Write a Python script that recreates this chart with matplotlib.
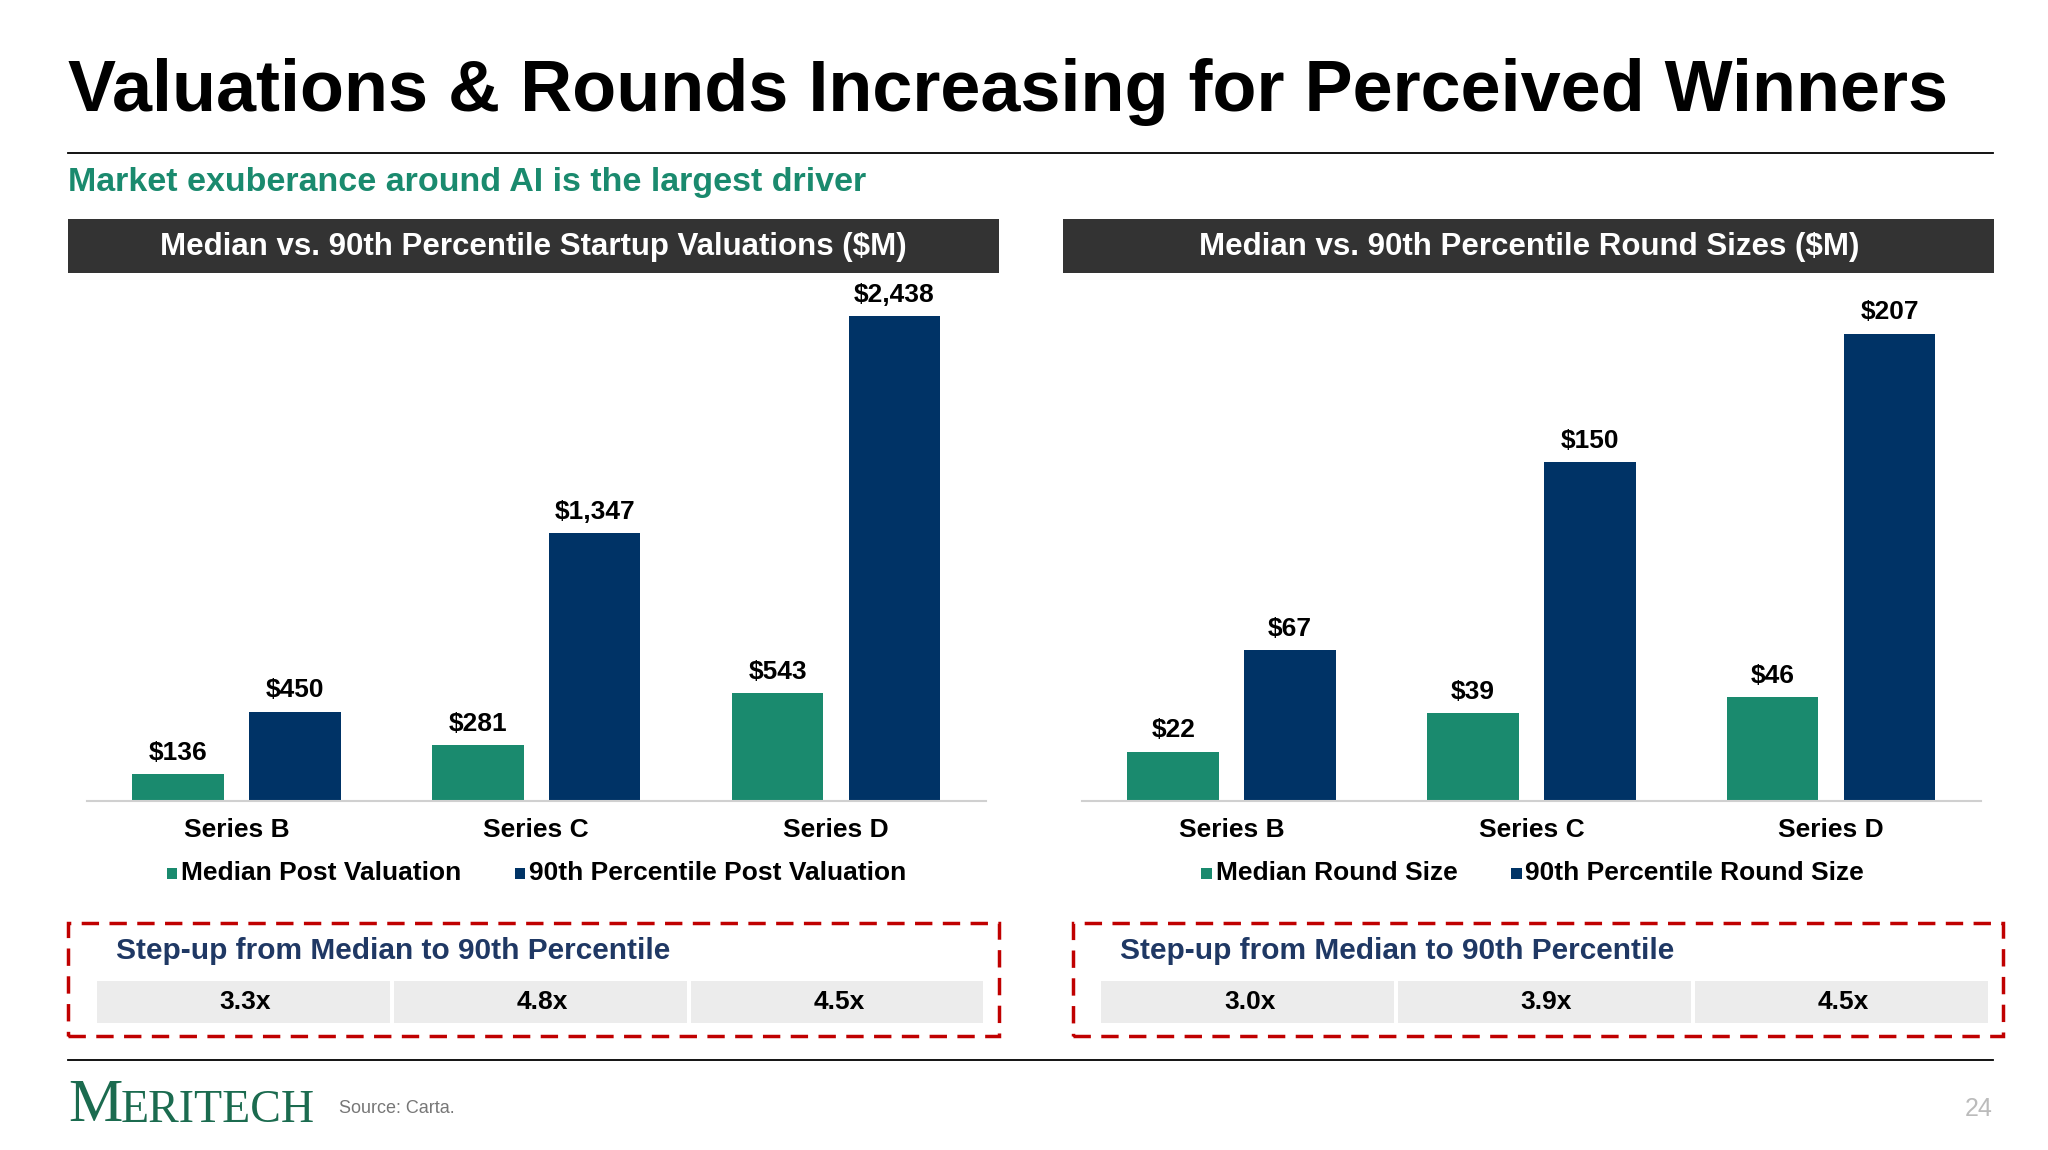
import matplotlib.pyplot as plt
from matplotlib.patches import Rectangle
import numpy as np

plt.rcParams['font.family'] = ['Liberation Sans', 'DejaVu Sans']

# data
categories = ["Series B", "Series C", "Series D"]
val_median = [136, 281, 543]
val_p90 = [450, 1347, 2438]
round_median = [22, 39, 46]
round_p90 = [67, 150, 207]
val_stepup = ["3.3x", "4.8x", "4.5x"]
round_stepup = ["3.0x", "3.9x", "4.5x"]

GREEN = "#1a8a6e"
NAVY = "#003366"
W, H = 1560.0, 877.0  # layout units (reference as displayed)

fig = plt.figure(figsize=(20.48, 11.5), dpi=100)
fig.patch.set_facecolor("white")

def fx(x):
    return x / W

def fy(y):
    return 1 - y / H

def rect(x0, y0, x1, y1, **kw):
    fig.add_artist(Rectangle((fx(x0), fy(y1)), fx(x1) - fx(x0), (y1 - y0) / H,
                             transform=fig.transFigure, **kw))

def line(x0, x1, y, **kw):
    fig.add_artist(plt.Line2D([fx(x0), fx(x1)], [fy(y), fy(y)], transform=fig.transFigure, **kw))

fig.text(fx(52), fy(70), "Valuations & Rounds Increasing for Perceived Winners",
         fontsize=51.8, fontweight="bold", va="center", ha="left", color="black")
line(52, 1518, 117, color="black", lw=1.3)
fig.text(fx(52), fy(139), "Market exuberance around AI is the largest driver",
         fontsize=24.5, fontweight="bold", color=GREEN, va="center")

def panel(x0, x1, box_x0, box_x1, title, med, p90, ymax, labels, fmt, legs, steps):
    rect(x0, 167, x1, 208, color="#333333", lw=0)
    fig.text(fx((x0 + x1) / 2), fy(188), title, color="white", fontsize=22.5,
             fontweight="bold", ha="center", va="center")
    ax = fig.add_axes([fx(x0 + 14), fy(611), fx(x1 - 10) - fx(x0 + 14), (611 - 215) / H])
    x = np.arange(len(labels))
    off, bw = 0.195, 0.305
    ax.bar(x - off, med, bw, color=GREEN)
    ax.bar(x + off, p90, bw, color=NAVY)
    for xi, v in zip(x - off, med):
        ax.text(xi, v + ymax * 0.018, fmt(v), ha="center", va="bottom", fontsize=19, fontweight="bold")
    for xi, v in zip(x + off, p90):
        ax.text(xi, v + ymax * 0.018, fmt(v), ha="center", va="bottom", fontsize=19, fontweight="bold")
    ax.set_xlim(-0.5, 2.5)
    ax.set_ylim(0, ymax)
    for s in ["top", "right", "left"]:
        ax.spines[s].set_visible(False)
    ax.spines["bottom"].set_color("#d0d0d0")
    ax.spines["bottom"].set_linewidth(1.5)
    ax.set_yticks([])
    ax.set_xticks(x)
    ax.set_xticklabels(labels, fontsize=19, fontweight="bold")
    ax.tick_params(axis="x", length=0, pad=12)
    # legend
    for (lx, txt), c in zip(legs, [GREEN, NAVY]):
        rect(lx, 662, lx + 8, 670, color=c, lw=0)
        fig.text(fx(lx + 11), fy(666), txt, fontsize=19, fontweight="bold", va="center")
    # step-up box
    fig.add_artist(Rectangle((fx(box_x0), fy(790)), fx(box_x1) - fx(box_x0), (790 - 704) / H,
                             transform=fig.transFigure, fill=False, ec="#c00000", lw=2.5,
                             ls=(0, (5, 3))))
    fig.text(fx(box_x0 + 36), fy(725), "Step-up from Median to 90th Percentile",
             fontsize=21.5, fontweight="bold", color="#1f3864", va="center")
    cw = (box_x1 - box_x0 - 31) / 3
    for i, s in enumerate(steps):
        c0 = box_x0 + 22 + i * cw
        rect(c0, 748, c0 + cw - 3, 780, color="#ececec", lw=0)
        fig.text(fx(c0 + cw / 2), fy(764), s, fontsize=19, fontweight="bold",
                 ha="center", va="center")

panel(52, 761, 52, 761, "Median vs. 90th Percentile Startup Valuations ($M)",
      val_median, val_p90, 2438 * 391 / 365, categories, lambda v: f"${v:,}",
      [(127, "Median Post Valuation"), (392, "90th Percentile Post Valuation")], val_stepup)
panel(810, 1519, 817, 1526, "Median vs. 90th Percentile Round Sizes ($M)",
      round_median, round_p90, 207 * 391 / 352, categories, lambda v: f"${v:,}",
      [(915, "Median Round Size"), (1151, "90th Percentile Round Size")], round_stepup)

line(52, 1518, 808, color="black", lw=1.3)
fig.text(fx(52), fy(844), "M", family="Liberation Serif", fontsize=44, color="#1b6b4f", va="center")
fig.text(fx(92), fy(847), "ERITECH", family="Liberation Serif", fontsize=33, color="#1b6b4f",
         va="center")
fig.text(fx(258), fy(845), "Source: Carta.", fontsize=13, color="#777777", va="center")
fig.text(fx(1518), fy(846), "24", fontsize=18, color="#bbbbbb", va="center", ha="right")

fig.savefig("out.png", dpi=100, facecolor="white")
